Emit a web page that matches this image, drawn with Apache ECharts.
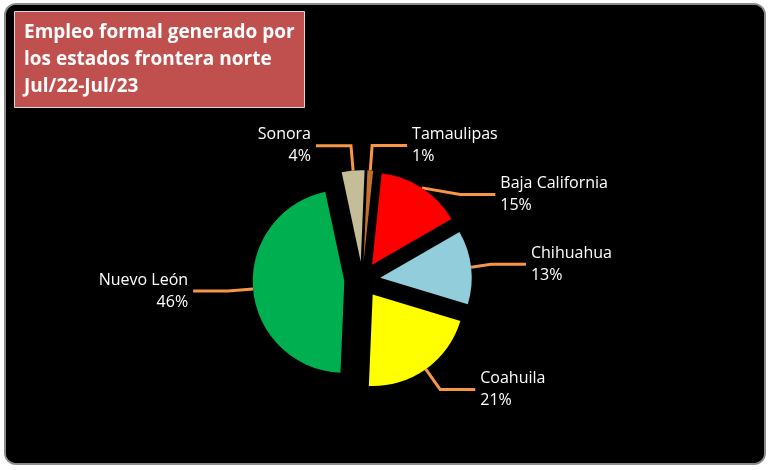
<!DOCTYPE html>
<html><head><meta charset="utf-8">
<script src="https://cdn.jsdelivr.net/npm/echarts@6/dist/echarts.min.js"></script>
<style>
html,body{margin:0;padding:0;background:#fff;}
#c{position:absolute;left:4px;top:3px;width:758px;height:458px;background:#000;border:2px solid #8c8c8c;border-radius:12px;overflow:hidden;}
</style></head><body>
<div id="c"></div>
<script>
const states = ["Sonora","Tamaulipas","Baja California","Chihuahua","Coahuila","Nuevo León"];
const shares = [4,1,15,13,21,46];
const colors = ["#c4bd97","#c0702f","#ff0000","#92cddc","#ffff00","#00b050"];
const chart = echarts.init(document.getElementById('c'));
chart.setOption({
  backgroundColor:'#000',
  title:{text:'Empleo formal generado por\nlos estados frontera norte\nJul/22-Jul/23',left:8,top:6,
    backgroundColor:'#c0504d',borderColor:'#d9d9d9',borderWidth:1,padding:[8,10,8,10],
    textAlign:'left',
    textStyle:{color:'#fff',fontSize:19,fontWeight:'bold',fontFamily:'Open Sans',lineHeight:27,align:'center'}},
  series:[{type:'pie',center:['47%','60%'],radius:['0%','40%'],startAngle:102,
    selectedMode:'multiple',selectedOffset:18,
    data:states.map((s,i)=>({name:s,value:shares[i],selected:true,itemStyle:{color:colors[i]}})),
    label:{color:'#fff',fontSize:16,fontFamily:'Open Sans',align:'center',formatter:'{b}\n{d}%',lineHeight:22},
    labelLine:{lineStyle:{color:'#f79646',width:3},length:25,length2:35},
    itemStyle:{borderColor:'#000',borderWidth:0}
  }]
});
</script></body></html>
